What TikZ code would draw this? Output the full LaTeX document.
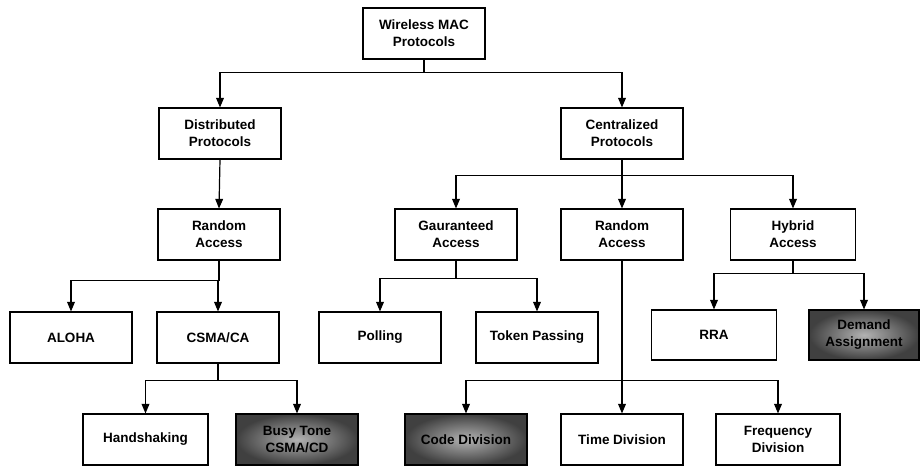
\documentclass[tikz,border=0pt]{standalone}
\usepackage{fontspec}
\setmainfont{Liberation Sans}
\usepackage{tikz}
\usetikzlibrary{shapes,arrows}
\usepackage{xcolor}

\begin{document}
\begin{tikzpicture}[x=1pt,y=-1pt,line width=1.2pt,>=triangle 45,
     box/.style={draw,minimum width=122pt,minimum height=51pt,align=center,inner sep=2pt,
                 font=\fontsize{13.5}{17}\selectfont\bfseries},
     dark/.style={box,inner color=black!30,outer color=black!75}]
     \useasboundingbox (0,0) rectangle (921,466);
     \node [box] (wmac) at (424,33.5) {Wireless MAC\\Protocols};
     \node [box] (dist) at (220,133.5) {Distributed\\Protocols};
     \node [box] (cent) at (622,133.5) {Centralized\\Protocols};
     \node [box] (rnd) at (219,234.5) {Random\\Access};
     \node [box] (gau) at (456,234.5) {Gauranteed\\Access};
     \node [box] (rac) at (622,234.5) {Random\\Access};
     \node [box,minimum width=125pt] (hyb) at (793,234.5) {Hybrid\\Access};
     \node [box] (aloha) at (71,337.5) {ALOHA};
     \node [box] (csma) at (218,337.5) {CSMA/CA};
     \node [box] (poll) at (380,337.5) {Polling};
     \node [box] (token) at (537,337.5) {Token Passing};
     \node [box,minimum width=125pt,minimum height=50pt] (rra) at (714,335) {RRA};
     \node [dark,minimum width=110pt,minimum height=50pt] (dem) at (864,335) {Demand\\Assignment};
     \node [box,minimum width=125pt] (hand) at (145.5,439.5) {Handshaking};
     \node [dark] (busy) at (297,439.5) {Busy Tone\\CSMA/CD};
     \node [dark] (code) at (466,439.5) {Code Division};
     \node [box] (time) at (622,439.5) {Time Division};
     \node [box,minimum width=124pt] (freq) at (778,439.5) {Frequency\\Division};
     \draw [->] (wmac.south) -- ++(0,13) -| (dist.north);
     \draw [->] (wmac.south) -- ++(0,13) -| (cent.north);
     \draw [->] (dist.south) -- (rnd.north);
     \draw [->] (cent.south) -- ++(0,16) -| (gau.north);
     \draw [->] (cent.south) -- (rac.north);
     \draw [->] (cent.south) -- ++(0,16) -| (hyb.north);
     \draw [->] (rnd.south) -- ++(0,20) -| (aloha.north);
     \draw [->] (rnd.south) -- ++(0,20) -| (csma.north);
     \draw [->] (gau.south) -- ++(0,18) -| (poll.north);
     \draw [->] (gau.south) -- ++(0,18) -| (token.north);
     \draw [->] (hyb.south) -- ++(0,13) -| (rra.north);
     \draw [->] (hyb.south) -- ++(0,13) -| (dem.north);
     \draw [->] (csma.south) -- ++(0,17) -| (hand.north);
     \draw [->] (csma.south) -- ++(0,17) -| (busy.north);
     \draw [->] (rac.south) -- ++(0,120) -| (code.north);
     \draw [->] (rac.south) -- (time.north);
     \draw [->] (rac.south) -- ++(0,120) -| (freq.north);
 \end{tikzpicture}
\end{document}
